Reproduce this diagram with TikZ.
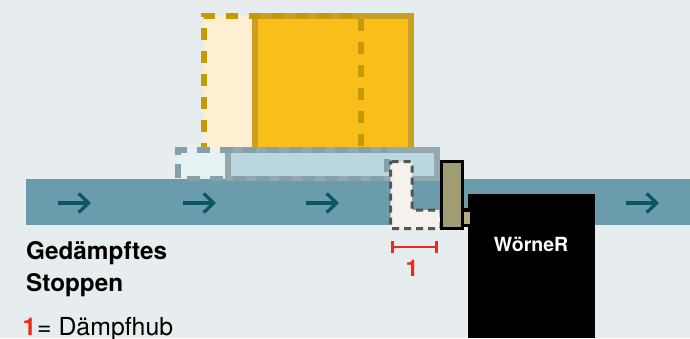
\documentclass[tikz,border=0pt]{standalone}
\usepackage{fontspec}
\setmainfont{TeX Gyre Heros}
\usetikzlibrary{arrows.meta}
\definecolor{bgc}{HTML}{E7EDEE}
\definecolor{belt}{HTML}{6A9CAB}
\definecolor{arrowc}{HTML}{0B5664}
\definecolor{goldc}{HTML}{FABE1A}
\definecolor{goldline}{HTML}{C9A024}
\definecolor{golddash}{HTML}{C59A04}
\definecolor{ghostgold}{HTML}{FEEFD2}
\definecolor{palletc}{HTML}{BAD6DF}
\definecolor{palletline}{HTML}{93A9AF}
\definecolor{palletdash}{HTML}{84A0A8}
\definecolor{ghostpallet}{HTML}{E6F1F4}
\definecolor{ghostdamper}{HTML}{F5F2EE}
\definecolor{ghostline}{HTML}{555555}
\definecolor{damper}{HTML}{A09C74}
\definecolor{rod}{HTML}{B0AC84}
\definecolor{redc}{HTML}{EE2A1B}
\tikzset{
  flowarrow/.style={draw=arrowc,line width=3.2pt,-{Straight Barb[length=10pt,width=19pt,line width=3.2pt]}},
  boldtext/.style={inner sep=0pt,anchor=base west,font=\fontsize{24.3}{24}\selectfont\bfseries},
}
\begin{document}
\begin{tikzpicture}[x=1pt,y=-1pt]
\useasboundingbox (0,0) rectangle (690,338);
\fill[bgc] (0,0) rectangle (690,338);
% belt
\fill[belt] (26,179) rectangle (690,225);
% arrows
\foreach \n/\xa in {a/58,b/183,c/306,d/626}{
  \coordinate (\n1) at (\xa,203);
  \coordinate (\n2) at (\xa+33,203);
  \draw[flowarrow] (\n1) -- (\n2);
}
% goods
\fill[ghostgold] (204,16) rectangle (255,150);
\draw[goldline,line width=5.2pt,fill=goldc] (255,16) rectangle (411,150);
\draw[golddash,line width=5.5pt,dash pattern=on 12pt off 11pt,dash phase=5pt] (204,150) -- (204,16) -- (361,16) -- (361,150);
% pallet
\fill[ghostpallet] (178,150) rectangle (229,178);
\draw[palletline,line width=5.2pt,fill=palletc] (228,150) rectangle (437,178.5);
\draw[palletdash,line width=5.2pt,dash pattern=on 13.5pt off 9.5pt,dash phase=7pt] (387,150) -- (178,150) -- (178,178.5) -- (387,178.5) -- cycle;
% damper ghost
\draw[ghostline,fill=ghostdamper,line width=3pt,dash pattern=on 7pt off 5pt,rounded corners=1pt]
  (390.5,161.5) -- (412,161.5) -- (412,210) -- (441,210) -- (441,228.5) -- (390.5,228.5) -- cycle;
% woerner box
\fill[black] (468,194) rectangle (595,338);
\fill[black] (462,208) rectangle (468,226.5);
% rod and stopper
\fill[rod] (463,212) rectangle (470,224);
\draw[black,line width=3pt,fill=damper] (441.5,161.5) rectangle (462.5,228.5);
\node[inner sep=0pt,text=white,font=\fontsize{19.5}{20}\selectfont\bfseries] (w) at (531,244) {WörneR};
% dimension
\coordinate (d1) at (391,247);
\coordinate (d2) at (438,247);
\draw[redc,line width=2.6pt,{Bar[width=12pt,line width=2.6pt]}-{Bar[width=12pt,line width=2.6pt]}] (d1) -- (d2);
\node[inner sep=0pt,text=redc,font=\fontsize{23}{23}\selectfont\bfseries] (n1) at (412,268) {1};
% text
\node[boldtext] (t1) at (26,259) {Gedämpftes};
\node[boldtext] (t2) at (26,291) {Stoppen};
\node[inner sep=0pt,anchor=base west,text=redc,font=\fontsize{24.5}{24}\selectfont\bfseries] (t3) at (22.5,335) {1};
\node[inner sep=0pt,anchor=base west,font=\fontsize{24.8}{24}\selectfont] (t4) at (37,335) {= Dämpfhub};
\end{tikzpicture}
\end{document}
